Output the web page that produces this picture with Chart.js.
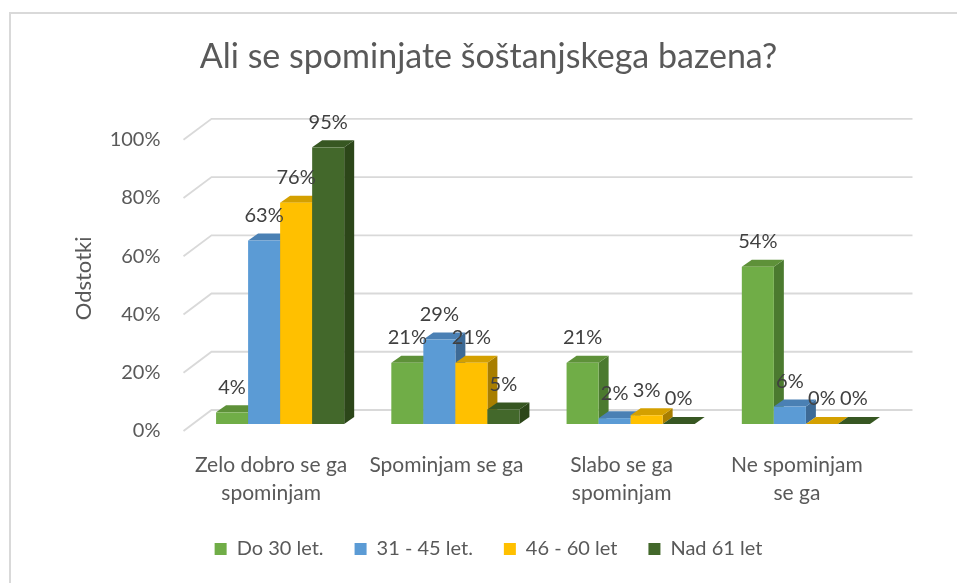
<!DOCTYPE html>
<html>
<head>
<meta charset="utf-8">
<script src="https://cdn.jsdelivr.net/npm/chart.js@4"></script>
<style>
  html, body { margin: 0; padding: 0; background: #fff; }
  canvas { display: block; }
</style>
</head>
<body>
<canvas id="chart" width="957" height="583"></canvas>
<script>
// values (percent)
const categories = [['Zelo dobro se ga', 'spominjam'], 'Spominjam se ga', ['Slabo se ga', 'spominjam'], ['Ne spominjam', 'se ga']];
const seriesNames = ['Do 30 let.', '31 - 45 let.', '46 - 60 let', 'Nad 61 let'];
const do30 = [4, 21, 21, 54];
const age31to45 = [63, 29, 2, 6];
const age46to60 = [76, 21, 3, 0];
const over61 = [95, 5, 0, 0];
const yTicks = [0, 20, 40, 60, 80, 100];

const fronts = ['#70AD47', '#5B9BD5', '#FFC000', '#43682B'];
const tops = ['#5E9139', '#4A80B4', '#D4A000', '#375722'];
const sides = ['#4B7A2F', '#3D6A96', '#A87E00', '#2C4619'];

const FONT = 'Lato, "Open Sans", sans-serif';
const GREY = '#595959';
// bar depth and back wall offset, relative to the bar plane
const DX = 10, DY = -7;
const WALL_X = 19, WALL_Y = -14;

const chartBorder = {
  id: 'chartBorder',
  beforeDraw(chart) {
    const ctx = chart.ctx;
    ctx.save();
    ctx.fillStyle = '#fff';
    ctx.fillRect(0, 0, chart.width, chart.height);
    ctx.strokeStyle = '#d9d9d9';
    ctx.lineWidth = 2;
    ctx.beginPath();
    ctx.moveTo(10, chart.height);
    ctx.lineTo(10, 13);
    ctx.lineTo(chart.width, 13);
    ctx.stroke();
    ctx.restore();
  }
};

function poly(ctx, pts, color) {
  ctx.beginPath();
  ctx.moveTo(pts[0][0], pts[0][1]);
  for (let i = 1; i < pts.length; i++) ctx.lineTo(pts[i][0], pts[i][1]);
  ctx.closePath();
  ctx.fillStyle = color;
  ctx.fill();
}

const bars3d = {
  id: 'bars3d',
  beforeDatasetsDraw(chart) {
    const ctx = chart.ctx;
    const area = chart.chartArea;
    const y = chart.scales.y;
    ctx.save();
    // back wall gridlines and the left side wall diagonals
    ctx.strokeStyle = '#d9d9d9';
    ctx.lineWidth = 1.8;
    yTicks.forEach(v => {
      const py = y.getPixelForValue(v);
      ctx.beginPath();
      ctx.moveTo(area.left - 9, py + 7);
      ctx.lineTo(area.left + WALL_X, py + WALL_Y);
      ctx.lineTo(area.right + WALL_X, py + WALL_Y);
      ctx.stroke();
    });
    // bars, left to right so the next front face hides the previous side
    const n = chart.data.labels.length;
    for (let c = 0; c < n; c++) {
      chart.data.datasets.forEach((ds, d) => {
        const bar = chart.getDatasetMeta(d).data[c];
        const l = bar.x - bar.width / 2, r = bar.x + bar.width / 2;
        const t = bar.y, b = bar.base;
        poly(ctx, [[r, t], [r + DX, t + DY], [r + DX, b + DY], [r, b]], sides[d]);
        poly(ctx, [[l, t], [l + DX, t + DY], [r + DX, t + DY], [r, t]], tops[d]);
        ctx.fillStyle = fronts[d];
        ctx.fillRect(l, t, r - l, b - t);
      });
    }
    // value labels
    ctx.font = '20px ' + FONT;
    ctx.fillStyle = '#404040';
    ctx.textAlign = 'center';
    ctx.textBaseline = 'middle';
    chart.data.datasets.forEach((ds, d) => {
      chart.getDatasetMeta(d).data.forEach((bar, i) => {
        ctx.fillText(ds.data[i] + '%', bar.x, bar.y - 25);
      });
    });
    ctx.restore();
    return false;
  }
};

new Chart(document.getElementById('chart'), {
  type: 'bar',
  data: {
    labels: categories,
    datasets: [
      { label: seriesNames[0], data: do30, backgroundColor: fronts[0] },
      { label: seriesNames[1], data: age31to45, backgroundColor: fronts[1] },
      { label: seriesNames[2], data: age46to60, backgroundColor: fronts[2] },
      { label: seriesNames[3], data: over61, backgroundColor: fronts[3] }
    ]
  },
  options: {
    responsive: false,
    animation: false,
    categoryPercentage: 0.731,
    barPercentage: 1,
    layout: { padding: { left: 83.5, right: 63.5, top: 0, bottom: 14 } },
    plugins: {
      title: {
        display: true,
        text: 'Ali se spominjate šoštanjskega bazena?',
        color: GREY,
        font: { family: FONT, size: 34, weight: 'normal' },
        padding: { top: 37, bottom: 55 }
      },
      legend: {
        position: 'bottom',
        labels: {
          color: GREY,
          font: { family: FONT, size: 20 },
          boxWidth: 12,
          boxHeight: 12,
          padding: 31
        }
      },
      tooltip: { enabled: false }
    },
    scales: {
      x: {
        grid: { display: false, drawTicks: false },
        border: { display: false },
        ticks: {
          color: GREY,
          font: { family: FONT, size: 21, lineHeight: 1.35 },
          padding: 27,
          labelOffset: -9,
          maxRotation: 0,
          autoSkip: false
        },
        afterFit(scale) { scale.height = 84; }
      },
      y: {
        min: 0,
        max: 100,
        grid: { display: false, drawTicks: false },
        border: { display: false },
        ticks: {
          stepSize: 20,
          color: GREY,
          font: { family: FONT, size: 20 },
          padding: 32,
          labelOffset: 7,
          callback: v => v + '%'
        },
        title: {
          display: true,
          text: 'Odstotki',
          color: GREY,
          font: { family: FONT, size: 22 },
          padding: { top: -13, bottom: 0 }
        },
        afterFit(scale) { scale.width = 109; }
      }
    }
  },
  plugins: [chartBorder, bars3d]
});
</script>
</body>
</html>
